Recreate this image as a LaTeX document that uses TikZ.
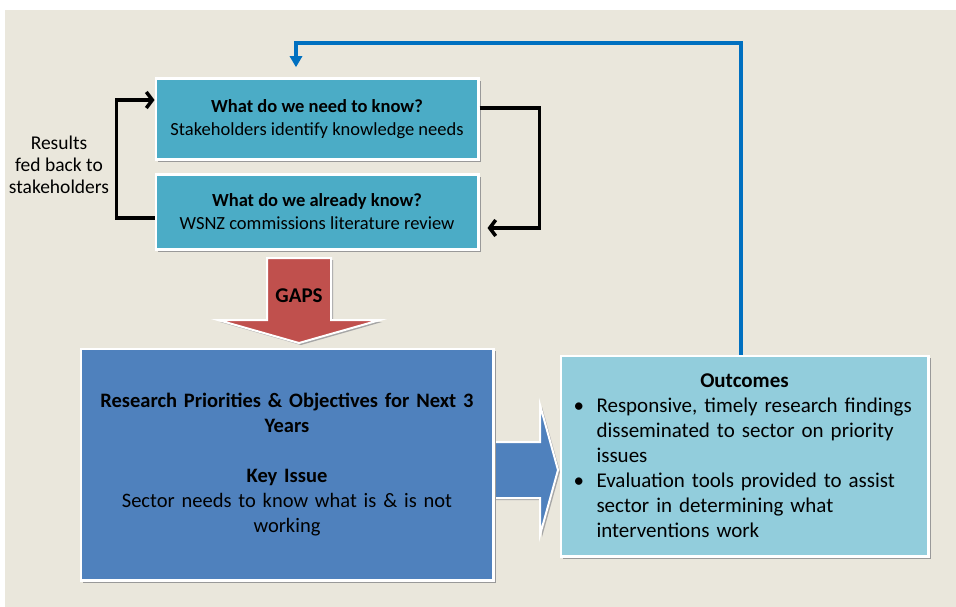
\documentclass[tikz,border=0pt]{standalone}
\usepackage{fontspec}
\setmainfont{Carlito}
\usetikzlibrary{arrows.meta,shadows}

\definecolor{bgbeige}{HTML}{EAE7DC}
\definecolor{needteal}{HTML}{4BACC6}
\definecolor{prioblue}{HTML}{4F81BD}
\definecolor{outcyan}{HTML}{92CDDC}
\definecolor{gapsred}{HTML}{C0504D}
\definecolor{fbblue}{HTML}{0070C0}

\begin{document}
\begin{tikzpicture}[x=1pt,y=-1pt,line join=miter,
    box/.style={draw=white,line width=2.5pt,align=center,inner sep=0pt,
        drop shadow={shadow xshift=2.5pt,shadow yshift=-2.5pt,fill=black!40,opacity=1},
        font=\fontsize{18.5}{23}\selectfont},
    bigarrow/.style={draw=white,line width=2pt,
        drop shadow={shadow xshift=2pt,shadow yshift=-2pt,fill=black!35,opacity=1}},
    cycleline/.style={line width=3.5pt,-{Straight Barb[length=6pt,width=16pt]}},
    feedback/.style={draw=fbblue,line width=3.5pt,-{Triangle[length=11pt,width=12pt]}}]
    \useasboundingbox (0,0) rectangle (956,607);
    \fill[bgbeige] (5,10) rectangle (956,607);
    % gaps and result arrows
    \path[bigarrow,fill=gapsred] (267,258) -- (331,258) -- (331,320) -- (380,320)
        -- (299,343) -- (218,320) -- (267,320) -- cycle;
    \node[font=\bfseries\fontsize{21}{25}\selectfont] (gaps) at (299,296) {GAPS};
    \path[bigarrow,fill=prioblue] (492,442) -- (540,442) -- (540,405) -- (558,470)
        -- (540,535) -- (540,498) -- (492,498) -- cycle;
    % boxes
    \node[box,fill=needteal,minimum width=322.5pt,minimum height=81pt] (need) at (317,119)
        {\textbf{What do we need to know?}\\Stakeholders identify knowledge needs};
    \node[box,fill=needteal,minimum width=322.5pt,minimum height=74.5pt] (know) at (317,212)
        {\textbf{What do we already know?}\\WSNZ commissions literature review};
    \node[box,fill=prioblue,minimum width=412.5pt,minimum height=231.5pt,text width=400pt,
        font=\fontsize{20.5}{25}\selectfont] (prio) at (287,464.5)
        {\textbf{Research Priorities \& Objectives for Next 3}\\\textbf{Years}\\[25pt]
         \textbf{Key Issue}\\Sector needs to know what is \& is not\\working};
    \node[box,fill=outcyan,minimum width=367.5pt,minimum height=200.5pt,text width=342pt,
        align=left,font=\fontsize{21}{25}\selectfont] (out) at (744.5,456)
        {\makebox[342pt][c]{\textbf{Outcomes}}\\
         \makebox[23pt][l]{\textbullet}Responsive, timely research findings\\
         \hspace*{23pt}disseminated to sector on priority\\
         \hspace*{23pt}issues\\
         \makebox[23pt][l]{\textbullet}Evaluation tools provided to assist\\
         \hspace*{23pt}sector in determining what\\
         \hspace*{23pt}interventions work};
    \node[font=\fontsize{19.5}{22}\selectfont,align=center] (fedback) at (59,165)
        {Results\\fed back to\\stakeholders};
    % loops
    \draw[cycleline] ([yshift=-6pt]know.west) -- ++(-38,0) |- ([yshift=19pt]need.west);
    \draw[cycleline] ([yshift=11pt]need.east) -- ++(60,0) |- ([xshift=8pt,yshift=-16pt]know.east);
    \coordinate (fbtop) at (296,43);
    \draw[feedback] ([xshift=-3.5pt]out.north) |- (fbtop) -- ([yshift=10pt]need.north -| fbtop);
\end{tikzpicture}
\end{document}
